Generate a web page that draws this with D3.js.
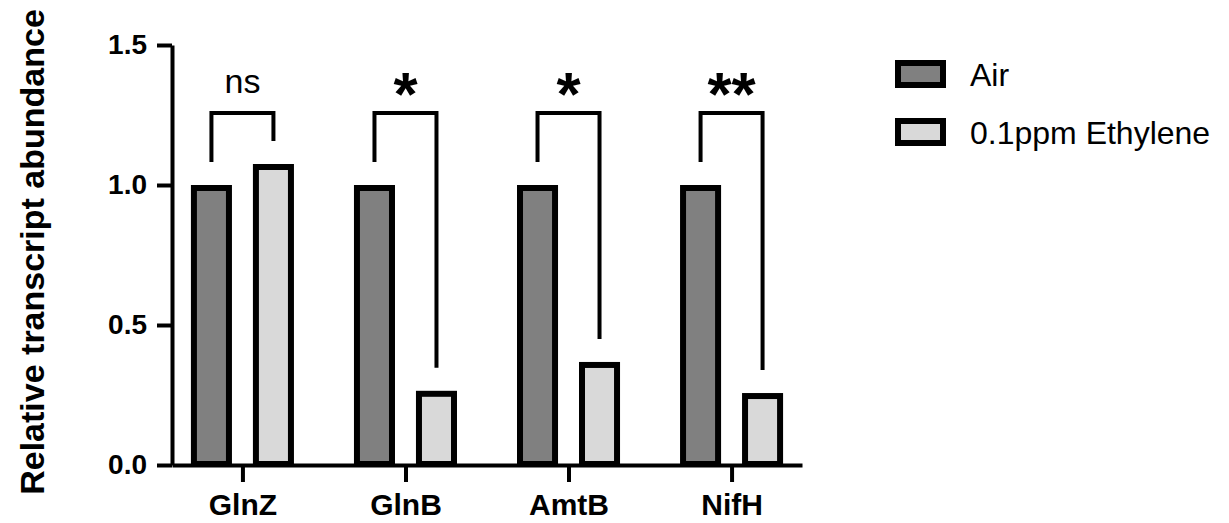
<!DOCTYPE html>
<html>
<head>
<meta charset="utf-8">
<script src="https://cdn.jsdelivr.net/npm/d3@7"></script>
<style>
  html, body { margin: 0; padding: 0; background: #fff; }
  svg { display: block; font-family: "Liberation Sans", Arial, Helvetica, sans-serif; }
</style>
</head>
<body>
<svg id="chart" width="1229" height="523"></svg>
<script>
// ---- data ----
const categories = ["GlnZ", "GlnB", "AmtB", "NifH"];
const seriesNames = ["Air", "0.1ppm Ethylene"];
const airValues = [1.0, 1.0, 1.0, 1.0];
const ethyleneValues = [1.075, 0.265, 0.368, 0.257];
const significance = ["ns", "*", "*", "**"];
const yTicks = [0.0, 0.5, 1.0, 1.5];
const yTickLabels = ["0.0", "0.5", "1.0", "1.5"];
const bracketTopValue = 1.257;

// ---- styles ----
const colors = { "Air": "#808080", "0.1ppm Ethylene": "#d9d9d9" };
const barStroke = 6;
const lineW = 4;

const svg = d3.select("#chart");

const y = d3.scaleLinear().domain([0, 1.5]).range([465, 45]);
const x = d3.scalePoint().domain(categories).range([172, 802]).padding(0.432);
const sub = d3.scaleBand().domain(seriesNames).range([-62, 62])
  .paddingInner(0.435).paddingOuter(0.2175);

// ---- bars ----
const rows = categories.map((c, i) => ({
  cat: c,
  vals: [airValues[i], ethyleneValues[i]],
  sig: significance[i]
}));

const g = svg.append("g");
rows.forEach(r => {
  seriesNames.forEach((s, j) => {
    const v = r.vals[j];
    const x0 = x(r.cat) + sub(s);
    g.append("rect")
      .attr("x", x0)
      .attr("y", y(v) + barStroke / 2)
      .attr("width", sub.bandwidth())
      .attr("height", y(0) - y(v) - barStroke / 2 - 1)
      .attr("fill", colors[s])
      .attr("stroke", "#000")
      .attr("stroke-width", barStroke);
  });
});

// ---- axes ----
const yAxis = d3.axisLeft(y).tickValues(yTicks)
  .tickFormat((d, i) => yTickLabels[i]).tickSize(15).tickSizeOuter(0).tickPadding(10);
const yg = svg.append("g").attr("transform", "translate(172,0)").call(yAxis);
yg.select(".domain").attr("stroke", "#000").attr("stroke-width", lineW);
yg.selectAll(".tick line").attr("stroke", "#000").attr("stroke-width", lineW);
yg.selectAll(".tick text").attr("font-size", 28).attr("font-weight", "bold")
  .attr("fill", "#000").attr("font-family", "Liberation Sans, Arial, sans-serif");

const xAxis = d3.axisBottom(x).tickSize(17).tickSizeOuter(0).tickPadding(12);
const xg = svg.append("g").attr("transform", `translate(0,${y(0)})`).call(xAxis);
xg.select(".domain").attr("stroke", "#000").attr("stroke-width", lineW);
xg.selectAll(".tick line").attr("stroke", "#000").attr("stroke-width", lineW);
xg.selectAll(".tick text").attr("font-size", 30).attr("font-weight", "bold")
  .attr("fill", "#000").attr("font-family", "Liberation Sans, Arial, sans-serif");

// ---- y title ----
svg.append("text")
  .attr("transform", "translate(44,252) rotate(-90)")
  .attr("text-anchor", "middle")
  .attr("font-size", 34)
  .attr("font-weight", "bold")
  .attr("fill", "#000")
  .text("Relative transcript abundance");

// ---- significance brackets ----
const gapPx = 23;
rows.forEach(r => {
  const xl = x(r.cat) + sub(seriesNames[0]) + sub.bandwidth() / 2;
  const xr = x(r.cat) + sub(seriesNames[1]) + sub.bandwidth() / 2;
  const yt = y(bracketTopValue);
  const yl = y(r.vals[0]) - gapPx;
  const yr = y(r.vals[1]) - gapPx;
  svg.append("path")
    .attr("d", `M${xl},${yl} L${xl},${yt} L${xr},${yt} L${xr},${yr}`)
    .attr("fill", "none").attr("stroke", "#000").attr("stroke-width", lineW)
    .attr("stroke-linejoin", "miter");
  const isNs = r.sig === "ns";
  svg.append("text")
    .attr("x", (xl + xr) / 2)
    .attr("y", isNs ? 93 : 115)
    .attr("text-anchor", "middle")
    .attr("font-size", isNs ? 34 : 62)
    .attr("font-weight", isNs ? "normal" : "bold")
    .attr("fill", "#000")
    .text(r.sig);
});

// ---- legend ----
const lg = svg.append("g");
seriesNames.forEach((s, i) => {
  const yy = 74 + i * 58;
  lg.append("rect")
    .attr("x", 898).attr("y", yy - 11)
    .attr("width", 45).attr("height", 22)
    .attr("fill", colors[s]).attr("stroke", "#000").attr("stroke-width", barStroke);
  lg.append("text")
    .attr("x", 970).attr("y", yy + 12)
    .attr("font-size", 32)
    .attr("fill", "#000")
    .text(s);
});
</script>
</body>
</html>
